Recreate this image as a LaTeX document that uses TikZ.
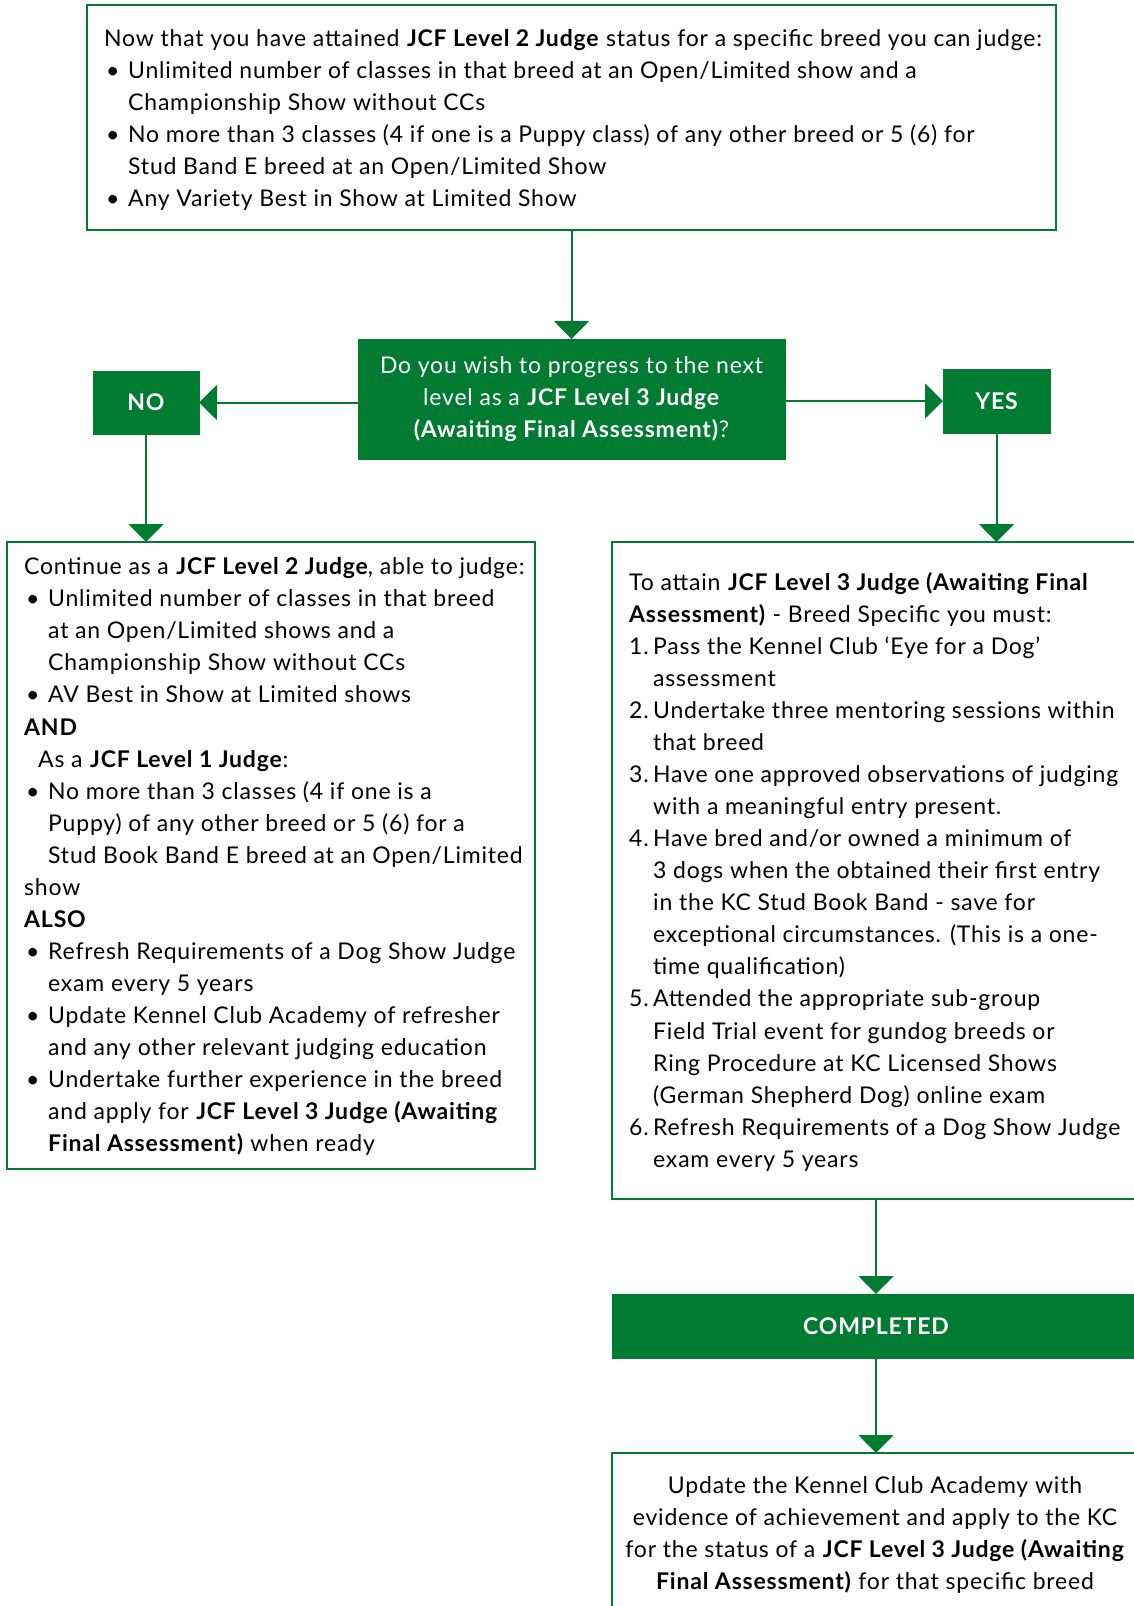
\documentclass[tikz,border=0pt]{standalone}
\usepackage{fontspec}
\setmainfont{Lato}[LetterSpace=3.5]
\usetikzlibrary{arrows.meta}
\definecolor{kcgreen}{RGB}{0,123,50}
\newcommand{\bl}[1]{\makebox[24pt][l]{\hspace{2pt}\textbullet}#1}
\newcommand{\cl}[1]{\hspace*{24pt}#1}
\newcommand{\nl}[2]{\makebox[24pt][l]{#1.}#2}
\newcommand{\fst}{\rule{0pt}{20pt}}
\begin{document}
\begin{tikzpicture}[x=1pt,y=-1pt,
  box/.style={draw=kcgreen, line width=2.5pt, fill=white, inner sep=0pt, outer sep=0pt},
  gbox/.style={fill=kcgreen, draw=kcgreen, inner sep=0pt, outer sep=0pt, text=white, align=center, font=\fontsize{23}{32.06}\selectfont},
  txt/.style={anchor=north west, inner sep=0pt, align=left, font=\fontsize{23}{32.06}\selectfont},
  arr/.style={draw=kcgreen, line width=2pt, -{Triangle[width=35pt,length=18pt]}}]
\useasboundingbox (0,0) rectangle (1133,1606);
% boxes
\node[box, minimum width=969pt, minimum height=225pt] (top) at (571.5,117.5) {};
\node[gbox, minimum width=427pt, minimum height=120pt] (dec) at (571.5,399)
  {Do you wish to progress to the next\\level as a \textbf{JCF Level 3 Judge}\\\textbf{(Awaiting Final Assessment)}?};
\node[gbox, minimum width=106pt, minimum height=63pt, font=\fontsize{23}{27}\selectfont\bfseries] (no) at (146,402.5) {NO};
\node[gbox, minimum width=107pt, minimum height=64pt, font=\fontsize{23}{27}\selectfont\bfseries] (yes) at (996.5,401) {YES};
\node[box, minimum width=528pt, minimum height=627pt] (left) at (271,855.5) {};
\node[box, minimum width=528pt, minimum height=657pt] (right) at (876,870.5) {};
\node[gbox, minimum width=528pt, minimum height=64pt, font=\fontsize{23}{27}\selectfont\bfseries] (comp) at (876,1326) {COMPLETED};
\node[box, minimum width=528pt, minimum height=167pt] (final) at (876,1536.5) {};
% texts
\node[txt] (toptext) at (104,26) {\fst Now that you have attained \textbf{JCF Level 2 Judge} status for a specific breed you can judge:\\
\bl{Unlimited number of classes in that breed at an Open/Limited show and a}\\
\cl{Championship Show without CCs}\\
\bl{No more than 3 classes (4 if one is a Puppy class) of any other breed or 5 (6) for}\\
\cl{Stud Band E breed at an Open/Limited Show}\\
\bl{Any Variety Best in Show at Limited Show}};
\node[txt] (lefttext) at (24,554.5) {\fst Continue as a \textbf{JCF Level 2 Judge}, able to judge:\\
\bl{Unlimited number of classes in that breed}\\
\cl{at an Open/Limited shows and a}\\
\cl{Championship Show without CCs}\\
\bl{AV Best in Show at Limited shows}\\
\textbf{AND}\\
\hspace*{14pt}As a \textbf{JCF Level 1 Judge}:\\
\bl{No more than 3 classes (4 if one is a}\\
\cl{Puppy) of any other breed or 5 (6) for a}\\
\cl{Stud Book Band E breed at an Open/Limited}\\
show\\
\textbf{ALSO}\\
\bl{Refresh Requirements of a Dog Show Judge}\\
\cl{exam every 5 years}\\
\bl{Update Kennel Club Academy of refresher}\\
\cl{and any other relevant judging education}\\
\bl{Undertake further experience in the breed}\\
\cl{and apply for \textbf{JCF Level 3 Judge (Awaiting}}\\
\cl{\textbf{Final Assessment)} when ready}};
\node[txt] (righttext) at (629,570) {\fst To attain \textbf{JCF Level 3 Judge (Awaiting Final}\\
\textbf{Assessment)} - Breed Specific you must:\\
\nl{1}{Pass the Kennel Club ‘Eye for a Dog’}\\
\cl{assessment}\\
\nl{2}{Undertake three mentoring sessions within}\\
\cl{that breed}\\
\nl{3}{Have one approved observations of judging}\\
\cl{with a meaningful entry present.}\\
\nl{4}{Have bred and/or owned a minimum of}\\
\cl{3 dogs when the obtained their first entry}\\
\cl{in the KC Stud Book Band - save for}\\
\cl{exceptional circumstances. (This is a one-}\\
\cl{time qualification)}\\
\nl{5}{Attended the appropriate sub-group}\\
\cl{Field Trial event for gundog breeds or}\\
\cl{Ring Procedure at KC Licensed Shows}\\
\cl{(German Shepherd Dog) online exam}\\
\nl{6}{Refresh Requirements of a Dog Show Judge}\\
\cl{exam every 5 years}};
\node[txt, anchor=north, align=center] (finaltext) at (875,1473) {\fst Update the Kennel Club Academy with\\
evidence of achievement and apply to the KC\\
for the status of a \textbf{JCF Level 3 Judge (Awaiting}\\
\textbf{Final Assessment)} for that specific breed};
% connectors
\draw[arr] (top.south) -- (dec.north);
\draw[arr] (dec.west |- no.east) -- (no.east);
\draw[arr] (dec.east |- yes.west) -- (yes.west);
\draw[arr] (no.south) -- (no.south |- left.north);
\draw[arr] (yes.south) -- (yes.south |- right.north);
\draw[arr] (right.south) -- (comp.north);
\draw[arr] (comp.south) -- (final.north);
\end{tikzpicture}
\end{document}
